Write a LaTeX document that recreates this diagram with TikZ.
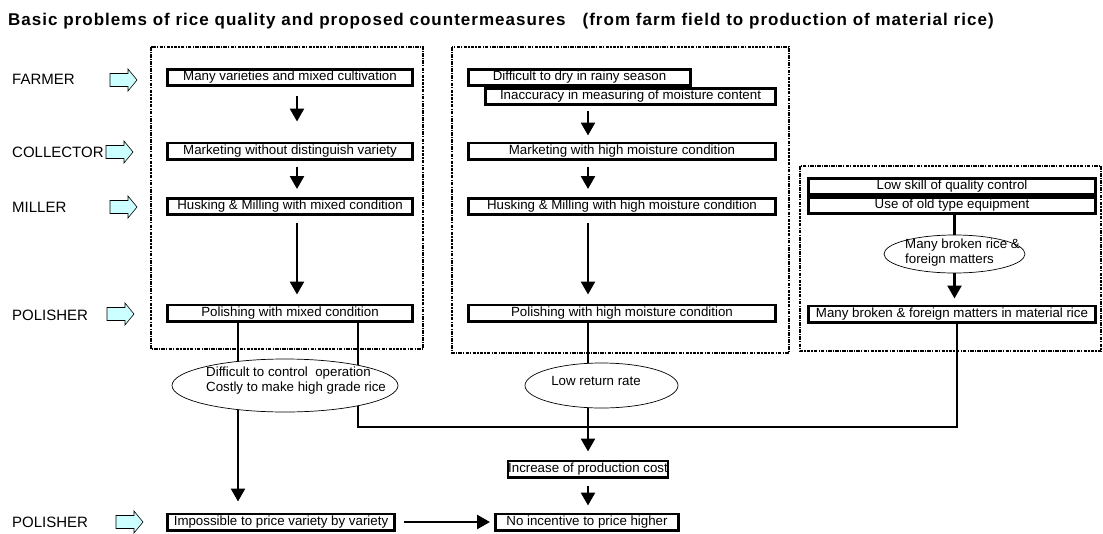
\documentclass[tikz,border=0pt]{standalone}
\usepackage{fontspec}
\setmainfont{Liberation Sans}
\usetikzlibrary{arrows.meta,shapes.geometric}
\definecolor{labelcyan}{HTML}{CCFFFF}
\begin{document}
\begin{tikzpicture}[x=1pt,y=-1pt,
  stage/.style={draw, line width=2.6pt, fill=white, inner sep=0pt, minimum height=16.4pt,
                font=\fontsize{13.3}{15}\selectfont},
  oval/.style={draw, ellipse, line width=0.7pt, fill=white, inner sep=0pt},
  note/.style={font=\fontsize{13.3}{15}\selectfont, align=left, inner sep=0pt},
  role/.style={anchor=west, inner sep=0pt, font=\fontsize{15}{17}\selectfont},
  frame/.style={line width=1.4pt, dash pattern=on 3.5pt off 1.2pt on 1.2pt off 1.2pt},
  flow/.style={line width=2.6pt, -{Triangle[length=13pt,width=14pt]}},
  link/.style={line width=2.6pt},
  rolearrow/.pic={\draw[fill=labelcyan, line width=0.6pt]
      (0,-6.5) -- (18,-6.5) -- (18,-11) -- (27,0) -- (18,11) -- (18,6.5) -- (0,6.5) -- cycle;},
]
\useasboundingbox (0,0) rectangle (1103,533);

% title
\node[anchor=west, inner sep=0pt, font=\bfseries\fontsize{17}{19}\selectfont\addfontfeature{LetterSpace=6}] (title) at (8,21)
  {Basic problems of rice quality and proposed countermeasures\hspace{1em}(from farm field to production of material rice)};

% actors on the left
\node[role] (farmer) at (12,79) {FARMER};
\node[role] (collector) at (12,152) {COLLECTOR};
\node[role] (miller) at (12,207) {MILLER};
\node[role] (polisher) at (12,315) {POLISHER};
\node[role] (polisher2) at (12,522) {POLISHER};
\pic at (110,80) {rolearrow};
\pic at (106,152) {rolearrow};
\pic at (110,207) {rolearrow};
\pic at (107,314) {rolearrow};
\pic at (116,522) {rolearrow};

% dotted groups
\draw[frame] (151,47) rectangle (423,349);
\draw[frame] (452,47) rectangle (789,353);
\draw[frame] (800,166) rectangle (1101,351);

% column 1: mixed varieties
\node[stage, minimum width=245.4pt] (m1) at (290,77.5) {Many varieties and mixed cultivation};
\node[stage, minimum width=245.4pt] (m2) at (290,151) {Marketing without distinguish variety};
\node[stage, minimum width=245.4pt] (m3) at (290,206.5) {Husking \& Milling with mixed condition};
\node[stage, minimum width=245.4pt] (m4) at (290,313) {Polishing with mixed condition};

% column 2: moisture
\node[stage, minimum width=222.4pt] (h1) at (579.5,77.5) {Difficult to dry in rainy season};
\node[stage, minimum width=290.4pt] (h2) at (630.5,96.5) {Inaccuracy in measuring of moisture content};
\node[stage, minimum width=307.4pt] (h3) at (622,151) {Marketing with high moisture condition};
\node[stage, minimum width=307.4pt] (h4) at (622,206.5) {Husking \& Milling with high moisture condition};
\node[stage, minimum width=307.4pt] (h5) at (622,313) {Polishing with high moisture condition};

% column 3: equipment
\node[stage, minimum width=287.4pt] (q1) at (952,186.5) {Low skill of quality control};
\node[stage, minimum width=287.4pt] (q2) at (952,205.5) {Use of old type equipment};
\node[stage, minimum width=287.4pt] (q3) at (952,314) {Many broken \& foreign matters in material rice};
\node[oval, minimum width=141pt, minimum height=38pt] (e3) at (954.5,254) {};
\node[note, anchor=west] (e3text) at (905,253) {Many broken rice \&\\foreign matters};

% consequences
\node[stage, minimum width=159.4pt] (cost) at (588,469) {Increase of production cost};
\node[stage, minimum width=183.4pt] (noinc) at (587,522) {No incentive to price higher};
\node[stage, minimum width=227.4pt] (imp) at (281,522) {Impossible to price variety by variety};

% connector columns
\coordinate (xa) at (297,0);
\coordinate (xb) at (588,0);
\coordinate (xl) at (238,0);
\coordinate (xr) at (358,0);
\coordinate (xq) at (957,0);
\coordinate (join) at (588,427);

\draw[flow, shorten <=9pt, shorten >=20pt] (m1.south -| xa) -- (m2.north -| xa);
\draw[flow, shorten <=6pt, shorten >=8pt] (m2.south -| xa) -- (m3.north -| xa);
\draw[flow, shorten <=7pt, shorten >=9pt] (m3.south -| xa) -- (m4.north -| xa);

\draw[flow, shorten <=5pt, shorten >=6pt] (h2.south -| xb) -- (h3.north -| xb);
\draw[flow, shorten <=6pt, shorten >=8pt] (h3.south -| xb) -- (h4.north -| xb);
\draw[flow, shorten <=7pt, shorten >=9pt] (h4.south -| xb) -- (h5.north -| xb);

\draw[link] (q2.south -| e3.north) -- (e3.north);
\draw[flow, shorten >=6pt] (e3.south) -- (q3.north -| e3.south);

\draw[flow, shorten >=11pt] (m4.south -| xl) -- (imp.north -| xl);
\draw[link] (m4.south -| xr) |- (join);
\draw[link] (q3.south -| xq) |- (join);
\draw[flow, shorten >=8pt] (h5.south -| xb) -- (cost.north -| xb);
\draw[flow, shorten <=7pt, shorten >=7pt] (cost.south) -- (noinc.north -| cost.south);
\draw[flow, shorten <=8pt, shorten >=4pt] (imp.east) -- (noinc.west);

% ovals sit on top of the lines that pass through them
\node[oval, minimum width=226pt, minimum height=53pt] (e1) at (285,385.5) {};
\node[note, anchor=west] (e1text) at (206,380.5) {Difficult to control\ \ operation\\Costly to make high grade rice};
\node[oval, minimum width=153pt, minimum height=45pt] (e2) at (601.5,385.5) {};
\node[note] (e2text) at (596,381) {Low return rate};
\end{tikzpicture}
\end{document}
